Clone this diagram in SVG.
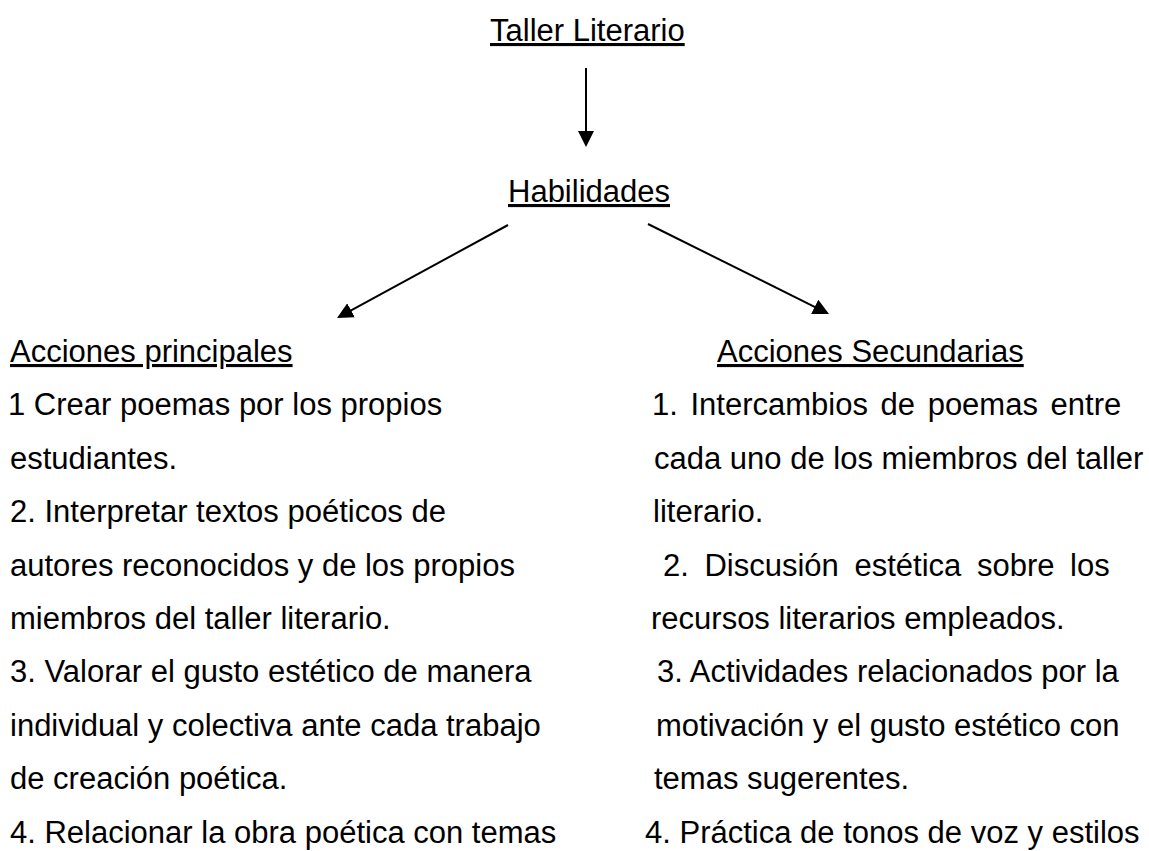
<svg xmlns="http://www.w3.org/2000/svg" width="1149" height="851" viewBox="0 0 1149 851">
<style>
text{font-family:"Liberation Sans",Arial,sans-serif;font-size:31px;fill:#000}
.u{text-decoration:underline}
.c{stroke:#000;stroke-width:2;fill:none}
</style>
<defs>
<marker id="ah" markerUnits="userSpaceOnUse" markerWidth="16" markerHeight="16" viewBox="0 0 16 16" refX="1" refY="8" orient="auto">
<path d="M0,0 L16,8 L0,16 z" fill="#000"/>
</marker>
</defs>
<rect width="1149" height="851" fill="#fff"/>
<g id="connectors">
<line class="c" x1="586" y1="68" x2="586" y2="132" marker-end="url(#ah)"/>
<line class="c" x1="508" y1="225" x2="350.2" y2="310.8" marker-end="url(#ah)"/>
<line class="c" x1="648" y1="224" x2="815.6" y2="307.3" marker-end="url(#ah)"/>
</g>
<g id="taller"><text class="u" x="490" y="41">Taller Literario</text></g>
<g id="habilidades"><text class="u" x="508" y="202">Habilidades</text></g>
<g id="principales">
<text class="u" x="10" y="362">Acciones principales</text>
<text x="8" y="415.4">1 Crear poemas por los propios</text>
<text x="10" y="468.8">estudiantes.</text>
<text x="10" y="522.2">2. Interpretar textos poéticos de</text>
<text x="10" y="575.6">autores reconocidos y de los propios</text>
<text x="10" y="629">miembros del taller literario.</text>
<text x="10" y="682.4">3. Valorar el gusto estético de manera</text>
<text x="10" y="735.8">individual y colectiva ante cada trabajo</text>
<text x="10" y="789.2">de creación poética.</text>
<text x="10" y="842.6">4. Relacionar la obra poética con temas</text>
</g>
<g id="secundarias">
<text class="u" x="717" y="362">Acciones Secundarias</text>
<text x="652" y="415.4" word-spacing="4">1. Intercambios de poemas entre</text>
<text x="654" y="468.8">cada uno de los miembros del taller</text>
<text x="653" y="522.2">literario.</text>
<text x="663" y="575.6" word-spacing="7">2. Discusión estética sobre los</text>
<text x="651" y="629">recursos literarios empleados.</text>
<text x="657" y="682.4">3. Actividades relacionados por la</text>
<text x="656" y="735.8">motivación y el gusto estético con</text>
<text x="654" y="789.2">temas sugerentes.</text>
<text x="645" y="842.6">4. Práctica de tonos de voz y estilos</text>
</g>
</svg>
